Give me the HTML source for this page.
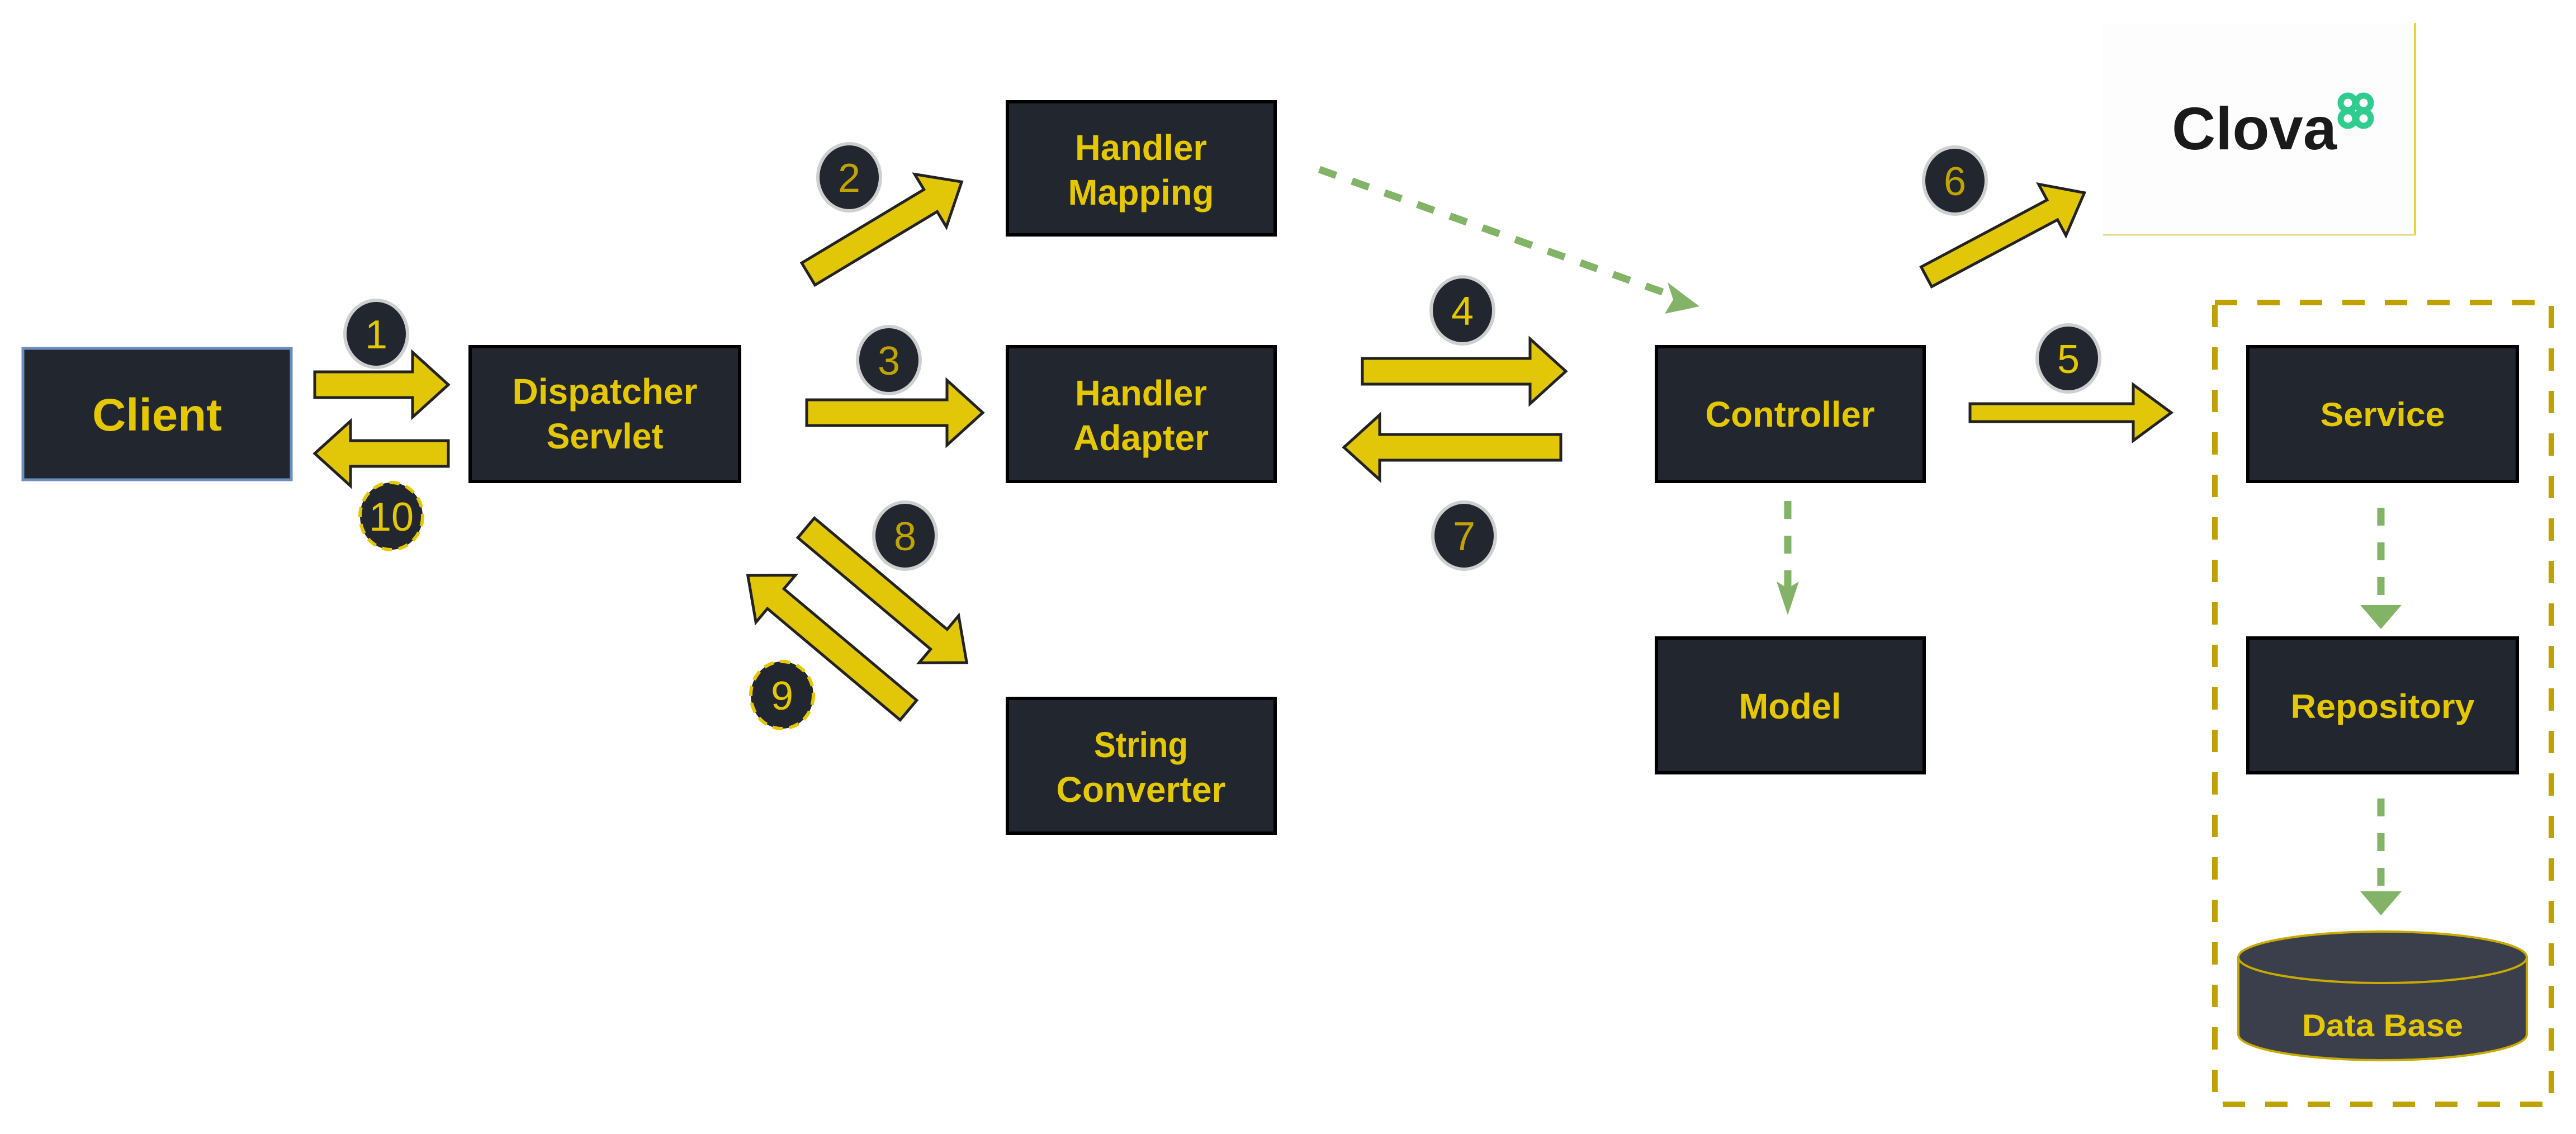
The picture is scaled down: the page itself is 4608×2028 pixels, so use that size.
<!DOCTYPE html>
<html><head><meta charset="utf-8"><style>html,body{margin:0;padding:0;background:#fff}svg{display:block}</style></head>
<body>
<svg width="4608" height="2028" viewBox="0 0 4608 2028" xmlns="http://www.w3.org/2000/svg" font-family="'Liberation Sans', sans-serif">
<rect width="4608" height="2028" fill="#fff"/>

<!-- Clova box -->
<rect x="3762" y="41" width="558" height="380" fill="#fdfdfd"/>
<line x1="4320" y1="41" x2="4320" y2="421" stroke="#e5c800" stroke-width="3"/>
<line x1="3762" y1="420" x2="4320" y2="420" stroke="#e5d880" stroke-width="3"/>
<text x="3885" y="267" font-size="108" font-weight="bold" fill="#1a1a1a" textLength="295" lengthAdjust="spacingAndGlyphs">Clova</text>
<g fill="none" stroke="#2ecc8e" stroke-width="11">
<circle cx="4200" cy="184" r="13"/><circle cx="4228" cy="184" r="13"/><circle cx="4200" cy="212" r="13"/><circle cx="4228" cy="212" r="13"/>
</g>

<!-- dashed container -->
<rect x="3962" y="541" width="602" height="1434" fill="none" stroke="#bfa200" stroke-width="10" stroke-dasharray="40,36"/>

<!-- boxes -->
<g fill="#22262e" stroke="#000" stroke-width="6">
<rect x="41" y="623" width="480" height="235" stroke="#6c8ebf" stroke-width="5"/>
<rect x="841" y="620" width="482" height="241"/>
<rect x="1802" y="182" width="479" height="238"/>
<rect x="1802" y="620" width="479" height="241"/>
<rect x="1802" y="1249" width="479" height="241"/>
<rect x="2963" y="620" width="479" height="241"/>
<rect x="2963" y="1141" width="479" height="241"/>
<rect x="4021" y="620" width="482" height="241"/>
<rect x="4021" y="1141" width="482" height="241"/>
</g>

<!-- DB cylinder -->
<path d="M4004,1712 L4004,1850 A258,46 0 0 0 4520,1850 L4520,1712" fill="#3b3f4b" stroke="#c8aa00" stroke-width="4"/>
<ellipse cx="4262" cy="1712" rx="258" ry="46" fill="#3b3f4b" stroke="#c8aa00" stroke-width="4"/>

<!-- box text -->
<g fill="#e5c800" font-weight="bold" text-anchor="middle">
<text x="281" y="770" font-size="82" textLength="232" lengthAdjust="spacingAndGlyphs">Client</text>
<text x="1082" y="722" font-size="64" textLength="331" lengthAdjust="spacingAndGlyphs">Dispatcher</text>
<text x="1082" y="802" font-size="64" textLength="209" lengthAdjust="spacingAndGlyphs">Servlet</text>
<text x="2041" y="286" font-size="64" textLength="236" lengthAdjust="spacingAndGlyphs">Handler</text>
<text x="2041" y="366" font-size="64" textLength="261" lengthAdjust="spacingAndGlyphs">Mapping</text>
<text x="2041" y="725" font-size="64" textLength="236" lengthAdjust="spacingAndGlyphs">Handler</text>
<text x="2041" y="805" font-size="64" textLength="242" lengthAdjust="spacingAndGlyphs">Adapter</text>
<text x="2041" y="1354" font-size="64" textLength="168" lengthAdjust="spacingAndGlyphs">String</text>
<text x="2041" y="1434" font-size="64" textLength="303" lengthAdjust="spacingAndGlyphs">Converter</text>
<text x="3202" y="763" font-size="64" textLength="303" lengthAdjust="spacingAndGlyphs">Controller</text>
<text x="3202" y="1285" font-size="64" textLength="183" lengthAdjust="spacingAndGlyphs">Model</text>
<text x="4262" y="762" font-size="60" textLength="223" lengthAdjust="spacingAndGlyphs">Service</text>
<text x="4262" y="1284" font-size="60" textLength="329" lengthAdjust="spacingAndGlyphs">Repository</text>
<text x="4262" y="1853" font-size="56" textLength="288" lengthAdjust="spacingAndGlyphs">Data Base</text>
</g>

<!-- green dashed connectors -->
<g stroke="#82b366" stroke-width="13" stroke-dasharray="32,30" fill="none">
<line x1="2360" y1="303" x2="2990" y2="528"/>
<line x1="3198" y1="896" x2="3198" y2="1060"/>
<line x1="4259" y1="908" x2="4259" y2="1085"/>
<line x1="4259" y1="1428" x2="4259" y2="1598"/>
</g>
<g fill="#82b366">
<polygon points="3040,548 2978,561 2993,536 2983,505"/>
<polygon points="3198,1100 3178,1040 3198,1052 3218,1040"/>
<polygon points="4259,1125 4222,1082 4296,1082"/>
<polygon points="4259,1637 4222,1594 4296,1594"/>
</g>

<!-- yellow block arrows -->
<g fill="#e2c608" stroke="#222" stroke-width="5" stroke-linejoin="miter">
<g transform="translate(563,688)"><polygon points="0,-23 175,-23 175,-58 239,0 175,58 175,23 0,23"/></g>
<g transform="translate(802,811) rotate(180)"><polygon points="0,-23 175,-23 175,-58 239,0 175,58 175,23 0,23"/></g>
<g transform="translate(1443,738)"><polygon points="0,-23 251,-23 251,-58 315,0 251,58 251,23 0,23"/></g>
<g transform="translate(2437,664)"><polygon points="0,-23 300,-23 300,-58 364,0 300,58 300,23 0,23"/></g>
<g transform="translate(2792,800) rotate(180)"><polygon points="0,-23 324,-23 324,-58 388,0 324,58 324,23 0,23"/></g>
<g transform="translate(3524,738)"><polygon points="0,-16 292,-16 292,-50 360,0 292,50 292,16 0,16"/></g>
<g transform="translate(1446,490) rotate(-31)"><polygon points="0,-23 255,-23 255,-55 320,0 255,55 255,23 0,23"/></g>
<g transform="translate(3446,495) rotate(-28)"><polygon points="0,-20 255,-20 255,-52 320,0 255,52 255,20 0,20"/></g>
<g transform="translate(1442,944) rotate(40)"><polygon points="0,-23 310,-23 310,-55 375,0 310,55 310,23 0,23"/></g>
<g transform="translate(1625,1270) rotate(220)"><polygon points="0,-23 310,-23 310,-55 375,0 310,55 310,23 0,23"/></g>
</g>

<!-- numbered circles -->
<g fill="#22262e" stroke="#cfcfcf" stroke-width="6">
<ellipse cx="673" cy="597" rx="56" ry="60"/>
<ellipse cx="1519" cy="317" rx="56" ry="60"/>
<ellipse cx="1590" cy="644" rx="56" ry="60"/>
<ellipse cx="2616" cy="555" rx="56" ry="60"/>
<ellipse cx="3700" cy="641" rx="56" ry="60"/>
<ellipse cx="3497" cy="323" rx="56" ry="60"/>
<ellipse cx="2619" cy="958" rx="56" ry="60"/>
<ellipse cx="1619" cy="958" rx="56" ry="60"/>
</g>
<g fill="#22262e" stroke="#e5c800" stroke-width="6" stroke-dasharray="18,12">
<ellipse cx="1399" cy="1243" rx="56" ry="60"/>
<ellipse cx="700" cy="923" rx="56" ry="60"/>
</g>
<g font-size="72" text-anchor="middle">
<text x="673" y="623" fill="#e5c800">1</text>
<text x="1519" y="343" fill="#c0a400">2</text>
<text x="1590" y="670" fill="#c0a400">3</text>
<text x="2616" y="581" fill="#e5c800">4</text>
<text x="3700" y="667" fill="#e5c800">5</text>
<text x="3497" y="349" fill="#c0a400">6</text>
<text x="2619" y="984" fill="#c0a400">7</text>
<text x="1619" y="984" fill="#c0a400">8</text>
<text x="1399" y="1269" fill="#e5c800">9</text>
<text x="700" y="949" fill="#e5c800">10</text>
</g>
</svg>
</body></html>
